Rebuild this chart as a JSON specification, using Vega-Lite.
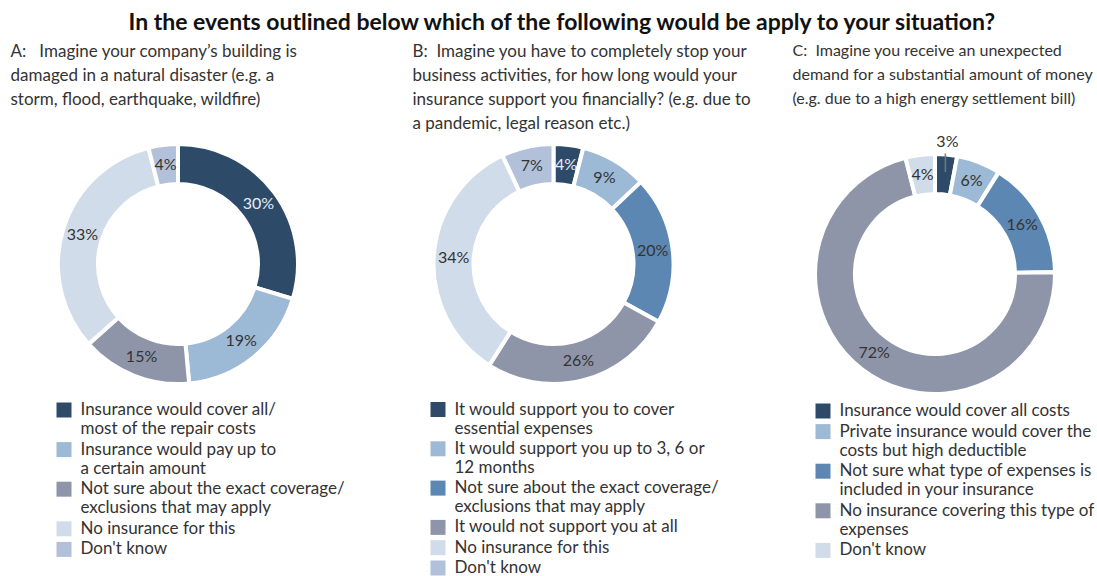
{
  "$schema": "https://vega.github.io/schema/vega-lite/v6.json",
  "background": "white",
  "padding": {"left": 10, "top": 12, "right": 5, "bottom": 5},
  "config": {"view": {"stroke": null}, "font": "Lato"},
  "title": {"text": "In the events outlined below which of the following would be apply to your situation?", "fontSize": 23, "fontWeight": "bold", "font": "Lato", "color": "#111111", "anchor": "start", "frame": "group", "dx": 70.5, "offset": 7.5},
  "bounds": "flush",
  "spacing": 135.5,
  "resolve": {"scale": {"color": "independent", "theta": "independent"}, "legend": {"color": "independent"}},
  "data": {"values": [
    {"panel": "A", "ord": 1, "cat": "Insurance would cover all/|most of the repair costs", "value": 30},
    {"panel": "A", "ord": 2, "cat": "Insurance would pay up to|a certain amount", "value": 19},
    {"panel": "A", "ord": 3, "cat": "Not sure about the exact coverage/|exclusions that may apply", "value": 15},
    {"panel": "A", "ord": 4, "cat": "No insurance for this", "value": 33},
    {"panel": "A", "ord": 5, "cat": "Don't know", "value": 4},
    {"panel": "B", "ord": 1, "cat": "It would support you to cover|essential expenses", "value": 4},
    {"panel": "B", "ord": 2, "cat": "It would support you up to 3, 6 or|12 months", "value": 9},
    {"panel": "B", "ord": 3, "cat": "Not sure about the exact coverage/|exclusions that may apply", "value": 20},
    {"panel": "B", "ord": 4, "cat": "It would not support you at all", "value": 26},
    {"panel": "B", "ord": 5, "cat": "No insurance for this", "value": 34},
    {"panel": "B", "ord": 6, "cat": "Don't know", "value": 7},
    {"panel": "C", "ord": 1, "cat": "Insurance would cover all costs", "value": 3},
    {"panel": "C", "ord": 2, "cat": "Private insurance would cover the|costs but high deductible", "value": 6},
    {"panel": "C", "ord": 3, "cat": "Not sure what type of expenses is|included in your insurance", "value": 16},
    {"panel": "C", "ord": 4, "cat": "No insurance covering this type of|expenses", "value": 72},
    {"panel": "C", "ord": 5, "cat": "Don't know", "value": 4}
  ]},
  "hconcat": [
    {
      "width": 240, "height": 240,
      "title": {"text": ["A:\u00a0\u00a0\u00a0Imagine your company’s building is", "damaged in a natural disaster (e.g. a", "storm, flood, earthquake, wildfire)", ""], "anchor": "start", "frame": "group", "dx": -47.5, "fontSize": 17, "fontWeight": "normal", "color": "#333333", "lineHeight": 24, "offset": 3.5},
      "transform": [{"filter": "datum.panel == 'A'"}, {"calculate": "datum.value + '%'", "as": "label"}],
      "encoding": {
        "theta": {"field": "value", "type": "quantitative", "stack": true},
        "order": {"field": "ord", "type": "quantitative"}
      },
      "layer": [
        {"mark": {"type": "arc", "innerRadius": 80, "outerRadius": 120, "stroke": "white", "strokeWidth": 4},
         "encoding": {"color": {"field": "cat", "type": "nominal",
           "scale": {"domain": ["Insurance would cover all/|most of the repair costs", "Insurance would pay up to|a certain amount", "Not sure about the exact coverage/|exclusions that may apply", "No insurance for this", "Don't know"],
                     "range": ["#2e4a69", "#9cb9d5", "#8f95a9", "#d0dce9", "#b2c1d9"]},
           "legend": {"orient": "none", "legendX": -2.5, "legendY": 257.5, "title": null, "direction": "vertical", "symbolType": "square", "symbolSize": 225, "symbolStrokeWidth": 0, "labelFontSize": 17, "labelColor": "#333333", "labelLimit": 400, "labelExpr": "split(datum.label, '|')", "rowPadding": 2.6, "labelOffset": 8, "labelBaseline": "middle"}}}},
        {"mark": {"type": "text", "radius": 100, "fontSize": 16},
         "encoding": {"text": {"field": "label", "type": "nominal"}, "color": {"condition": {"test": "datum.ord == 1", "value": "#e6ecf3"}, "value": "#333333"}}}
      ]
    },
    {
      "width": 240, "height": 240,
      "title": {"text": ["B:\u00a0\u00a0Imagine you have to completely stop your", "business activities, for how long would your", "insurance support you financially? (e.g. due to", "a pandemic, legal reason etc.)"], "anchor": "start", "frame": "group", "dx": -21, "fontSize": 17, "fontWeight": "normal", "color": "#333333", "lineHeight": 24, "offset": 3.5},
      "transform": [{"filter": "datum.panel == 'B'"}, {"calculate": "datum.value + '%'", "as": "label"}],
      "encoding": {
        "theta": {"field": "value", "type": "quantitative", "stack": true},
        "order": {"field": "ord", "type": "quantitative"}
      },
      "layer": [
        {"mark": {"type": "arc", "innerRadius": 80, "outerRadius": 120, "stroke": "white", "strokeWidth": 4},
         "encoding": {"color": {"field": "cat", "type": "nominal",
           "scale": {"domain": ["It would support you to cover|essential expenses", "It would support you up to 3, 6 or|12 months", "Not sure about the exact coverage/|exclusions that may apply", "It would not support you at all", "No insurance for this", "Don't know"],
                     "range": ["#2e4a69", "#9cb9d5", "#5b87b2", "#8f95a9", "#d0dce9", "#b2c1d9"]},
           "legend": {"orient": "none", "legendX": -4, "legendY": 257, "title": null, "direction": "vertical", "symbolType": "square", "symbolSize": 225, "symbolStrokeWidth": 0, "labelFontSize": 17, "labelColor": "#333333", "labelLimit": 400, "labelExpr": "split(datum.label, '|')", "rowPadding": 2.3, "labelOffset": 8, "labelBaseline": "middle"}}}},
        {"mark": {"type": "text", "radius": 100, "fontSize": 16},
         "encoding": {"text": {"field": "label", "type": "nominal"}, "color": {"condition": {"test": "datum.ord == 1", "value": "#e6ecf3"}, "value": "#333333"}}}
      ]
    },
    {
      "width": 252, "height": 260,
      "title": {"text": ["C:\u00a0\u00a0Imagine you receive an unexpected", "demand for a substantial amount of money", "(e.g. due to a high energy settlement bill)", ""], "anchor": "start", "frame": "group", "dx": -16.5, "fontSize": 16, "fontWeight": "normal", "color": "#333333", "lineHeight": 24, "offset": 3},
      "transform": [{"filter": "datum.panel == 'C'"}, {"calculate": "datum.value + '%'", "as": "label"}],
      "encoding": {
        "theta": {"field": "value", "type": "quantitative", "stack": true},
        "order": {"field": "ord", "type": "quantitative"}
      },
      "layer": [
        {"mark": {"type": "arc", "innerRadius": 80, "outerRadius": 120, "stroke": "white", "strokeWidth": 4},
         "encoding": {"color": {"field": "cat", "type": "nominal",
           "scale": {"domain": ["Insurance would cover all costs", "Private insurance would cover the|costs but high deductible", "Not sure what type of expenses is|included in your insurance", "No insurance covering this type of|expenses", "Don't know"],
                     "range": ["#2e4a69", "#9cb9d5", "#5b87b2", "#8f95a9", "#d0dce9"]},
           "legend": {"orient": "none", "legendX": 5.5, "legendY": 258.5, "title": null, "direction": "vertical", "symbolType": "square", "symbolSize": 225, "symbolStrokeWidth": 0, "labelFontSize": 17, "labelColor": "#333333", "labelLimit": 400, "labelExpr": "split(datum.label, '|')", "rowPadding": 2.6, "labelOffset": 8, "labelBaseline": "middle"}}}},
        {"mark": {"type": "text", "radius": {"expr": "datum.value <= 3 ? 133 : 100"}, "fontSize": 16},
         "encoding": {"text": {"field": "label", "type": "nominal"}, "color": {"condition": {"test": "datum.ord == 1 && datum.value > 3", "value": "#e6ecf3"}, "value": "#333333"}}},
        {"mark": {"type": "text", "radius": 111, "fontSize": 20, "color": "#7a7a7a"},
         "encoding": {"text": {"condition": {"test": "datum.value <= 3", "value": "|"}, "value": ""}}}
      ]
    }
  ]
}
